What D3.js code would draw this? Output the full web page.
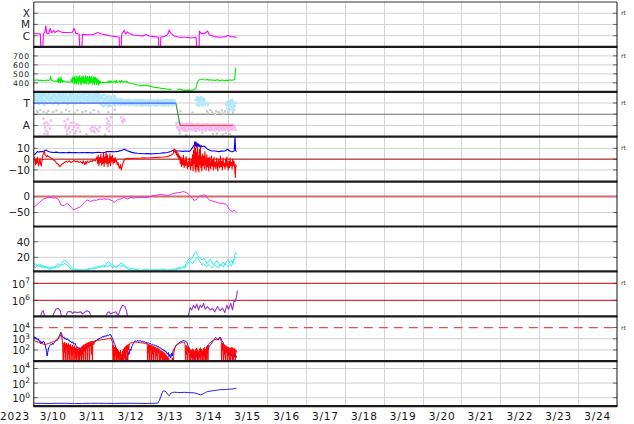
<!DOCTYPE html>
<html><head><meta charset="utf-8">
<script src="https://cdn.jsdelivr.net/npm/d3@7"></script>
<style>html,body{margin:0;padding:0;background:#fff;} svg{display:block;}</style>
</head><body><svg id="c" width="634" height="424"></svg>
<script>
// ---------------- DATA (hours since 2023-03-10 00:00 UTC) ----------------
const dayLabels = ["3/10","3/11","3/12","3/13","3/14","3/15","3/16","3/17","3/18","3/19","3/20","3/21","3/22","3/23","3/24"];
const yearLabel = "2023";

const xrayTickValues = [1e-6,1e-5,1e-4];
const xrayTickLabels = ["C","M","X"];
const xrayFlux = [[0.2,1.6e-6],[2,1.5e-6],[4.0,1.45e-6],[4.6,1e-8],[5.4,1e-8],[5.9,1.6e-6],[6.8,1.9e-6],[7.4,7.4e-6],[8.0,1.7e-6],[9.2,1.6e-6],[10.1,4.6e-6],[10.9,1.8e-6],[12.2,2.8e-6],[13.0,1.9e-6],[13.6,2.2e-6],[15.0,2.8e-6],[16.3,2.3e-6],[17.7,1.9e-6],[20.8,1.9e-6],[23.9,2.0e-6],[24.9,4.6e-6],[25.9,1.6e-6],[28.0,1.4e-6],[28.6,1e-8],[29.4,1e-8],[30.0,1.3e-6],[33.1,1.2e-6],[36.2,1.2e-6],[38.3,1.6e-6],[39.3,1.9e-6],[41.4,1.5e-6],[44.5,1.17e-6],[47.6,9.5e-7],[50.6,8.3e-7],[52.7,7.2e-7],[53.0,1e-8],[53.8,1e-8],[54.2,1.2e-6],[55.8,3.0e-6],[56.8,1.4e-6],[57.8,2.2e-6],[58.9,1.6e-6],[61,1.2e-6],[64,1.05e-6],[67.1,9.5e-7],[69.2,1.3e-6],[71.2,9.5e-7],[74.3,8.3e-7],[77.0,7.2e-7],[77.2,1e-8],[78.0,1e-8],[78.4,7.5e-7],[80.5,8.3e-7],[82.6,1.2e-6],[83.6,3.2e-6],[84.6,1.6e-6],[86.7,9.5e-7],[89.8,7.2e-7],[93.9,7.2e-7],[97,6.3e-7],[100.1,7.2e-7],[101.2,1e-8],[102,1e-8],[102.2,2.6e-6],[103.2,1.6e-6],[105.2,1.5e-6],[107.3,2.6e-6],[108.3,1.2e-6],[111.4,8.3e-7],[115.5,7.2e-7],[118.6,8.3e-7],[119.6,1.1e-6],[121.7,8.3e-7],[125.2,7.2e-7]];

const speedTickValues = [400,500,600,700];
const speedTickLabels = ["400","500","600","700"];
const windSpeed = [[0.2,432],[1,428],[2,434],[3,426],[4,430],[5,422],[6,428],[7,424],[8,432],[9,426],[10,434],[10.4,472],[10.8,428],[11.5,424],[12.5,418],[13.5,420],[14.5,414],
[15,445],[15.3,405],[15.6,460],[15.9,410],[16.2,438],[16.5,402],[16.8,465],[17.1,414],[17.4,432],[17.7,406],[18,424],[19,414],[20,410],[21,412],[22,408],[23,414],
[23.5,444],[23.8,400],[24.1,466],[24.4,420],[24.7,455],[25,390],[25.3,474],[25.6,405],[25.9,440],[26.2,386],[26.5,472],[26.8,412],[27.1,456],[27.4,382],[27.7,468],[28,420],[28.3,478],[28.6,394],[28.9,450],[29.2,380],[29.5,470],[29.8,416],[30.1,462],[30.4,392],[30.7,476],[31,404],[31.3,440],[31.6,384],[31.9,478],[32.2,410],[32.5,456],[32.8,388],[33.1,472],[33.4,426],[33.7,452],[34,382],[34.3,474],[34.6,408],[34.9,460],[35.2,394],[35.5,470],[35.8,418],[36.1,446],[36.4,384],[36.7,466],[37,400],[37.3,459],[37.6,378],[37.9,464],[38.2,412],[38.5,448],[38.8,380],[39.1,444],[39.4,398],[39.7,434],[40,376],[40.3,429],[40.6,394],[41,414],[41.5,399],
[42.5,404],[43.5,402],[44.5,409],[45.5,404],[46,419],[46.4,400],[47,424],[47.5,402],[48,416],[49,404],[50,422],[50.5,400],[51,429],[51.5,404],[52.5,409],[53,424],[53.5,402],[54,426],[55,406],[56,414],[57,408],[57.5,419],[58,400],[59,396],[60,392],[61,389],[62,386],[63,382],[64,376],[65,372],[66,366],[67,369],[68,374],[69,376],[70,374],[71,366],[72,360],[73,357],[74,351],[75,349],[76,347],[77,345],[78,341],[79,338],[80,336],[81,334],[82,332],[83,329],[84,327],[85,329],[86,null],
[88.5,326],[89,328],[90,330],[91,324],[92,321],[93,319],[94,317],[95,319],[96,321],[97,317],[98,319],[99,326],[100,338],[100.5,366],[101,405],[101.5,424],[102,432],[103,436],[104,442],[105,434],[106,432],[107,438],[108,430],[109,434],[110,428],[111,432],[112,426],[113,434],[114,430],[115,424],[116,432],[117,428],[118,422],[119,430],[120,424],[121,434],[122,428],[123,432],[124,436],[124.5,561],[125,563]];

const phiTickValues = [135,225,315];
const phiTickLabels = ["A","","T"];
// rows: [hour, angles observed within that hour]
const phiToward = [[0,385,350,330,372],[1,360,395,340,318],[2,375,330,392,355],[3,345,380,310,365],[4,398,352,336,376],[5,362,388,322,345],[6,340,372,300,390],[7,380,355,332,368],[8,350,398,315,342],[9,372,338,385,356],[10,392,348,325,366],[11,358,380,340,312],[12,345,370,392,330],[13,382,352,318,362],[14,366,395,342,328],[15,350,375,305,388],[16,395,360,338,372],[17,340,384,356,320],[18,376,348,390,334],[19,358,370,325,395],[20,386,342,362,310],[21,350,398,336,370],[22,372,355,318,388],[23,340,380,362,328],[24,390,350,372,345],[25,365,336,394,312],[26,378,352,330,360],[27,345,388,368,322],[28,396,340,358,375],[29,355,380,326,368],[30,372,345,392,336],[31,350,366,315,384],[32,388,338,360,346],[33,362,395,330,372],[34,340,378,355,318],[35,385,350,372,334],[36,356,392,338,365],[37,375,345,320,388],[38,348,382,362,330],[39,392,356,340,370],[40,366,335,385,312],[41,345,372,355,300],[42,360,330,378,290],[43,352,380,316,342],[44,338,365,300,355],[45,372,345,325,290],[46,350,368,310,336],[47,335,358,295,348],[48,362,330,345,305],[49,340,355,318,370],[50,330,350,296,342],[51,348,322,336,310],[52,325,340,305,332],[53,335,318,345,300],[54,322,338,310,328],[55,340,312,330,305],[56,318,335,300,326],[57,332,310,338,315],[58,325,342,306,320],[59,315,330,298,334],[60,338,320,310,326],[61,322,335,302,316],[62,330,312,340,305],[63,318,328,296,335],[64,335,306,322,312],[65,320,338,300,326],[66,312,330,318,296],[67,328,310,336,304],[68,316,332,300,322],[69,334,308,325,298],[70,322,336,310,318],[71,310,326,296,332],[72,330,314,338,305],[73,318,328,300,322],[74,335,310,326,298],[75,322,332,308,318],[76,312,338,295,326],[77,328,306,334,315],[78,316,330,300,322],[79,334,312,325,298],[80,320,338,306,316],[81,312,326,298,332],[82,330,310,340,304],[83,318,332,296,324],[84,336,308,322,312],[85,325,340,302,318],[86,312,328,298,334],
[100,340,305],[101,360,320,345,295],[102,330,355,300,340],[103,348,312,362,325],[104,322,350,296,338],[105,345,305,330],[107,315,300],[119,300,270,320],[120,325,285,250,310],[121,296,330,262,315],[122,310,280,340,255],[123,322,265,300],[124,290,315]];
const phiAway = [[6,190,150],[7,120,95],[8,160,80],[9,140],[10,110,175],[19,170,120],[20,140,95],[21,185,110],[22,130,80],[23,155],[24,100,160],[25,125],[26,90,145],[27,115],[28,135,85],[35,110,90],[36,125],[37,95,118],[39,105],[40,88,120],[45,190,150,110],[46,170,90,130],[47,140,200],[54,200,170],[55,160,185],[56,175],
[88,150,120],[89,130,100,160],[90,110,140,90,125],[91,135,105,150,118],[92,120,95,140,130],[93,145,112,100,128],[94,118,138,92,150],[95,130,108,145,120],[96,112,140,98,132],[97,150,125,105,138],[98,128,96,145,115],[99,140,118,130,102],[100,115,135,92,125],[101,130,108,150,120],[102,122,140,98,135],[103,138,112,128,105],[104,118,145,100,130],[105,132,106,140,122],[106,112,138,95,128],[107,145,120,108,135],[108,125,98,140,115],[109,138,112,130,100],[110,118,142,105,128],[111,130,96,145,120],[112,112,135,100,125],[113,140,118,108,132],[114,122,145,96,130],[115,135,110,128,102],[116,115,140,98,125],[117,130,106,145,118],[118,120,138,100,128],[119,142,112,130,105],[120,118,135,96,125],[121,132,108,140,120],[122,112,138,100,128],[123,140,120,105,130],[124,125,100]];
const phiOther = [[2,250,240],[4,258],[6,245,70],[8,236,62],[9,252],[12,244],[14,255],[17,240],[20,262,68],[22,248],[25,238,72],[27,256],[30,242],[32,250,65],[35,238],[37,258,80],[40,246],[44,60],[46,240],[50,262],[90,70,250],[94,60],[98,240],[104,78],[107,250,232],[109,258],[110,240,66],[112,226,250],[113,70],[114,244,236],[116,255,62],[117,230],[118,248,75],[120,240],[121,68],[123,236,258]];
const phiSampleOffsets = [0, 0.55, 0.2, 0.8];
const sectorTimes = [0.2,87.7,90.3,123.1];
const sectorAngles = [315,315,135,135];

const bTickValues = [-10,0,10];
const bTickLabels = ["\u221210","0","10"];
const bTotal = [[0.2,4],[1,5],[2.3,7.1],[3,6.5],[4.3,7.1],[5,6.8],[6.4,7.5],[7.5,8.6],[8.4,7.5],[9.5,6.8],[10.5,6.5],[12,6.2],[14,6.5],[16,6.0],[18,6.2],[20,6.0],[22,6.3],[24,6.0],[26,6.1],[28,5.9],[30,6.2],[32,6.0],[34,6.1],[36,5.8],[38,6.2],[40,6.4],[42,6.0],[44,6.3],[45.5,7.1],[47.5,7.0],[50,6.8],[52,7.2],[54,8],[55.8,9.2],[57.8,7.7],[60,6.5],[62,5.8],[64,5.5],[66,5.3],[68,5.0],[70,5.2],[72,4.9],[74,5.0],[76,5.3],[78,5.5],[80,5.8],[82.5,6.1],[84.5,7.0],[86.6,8.6],[88,7.8],[90,7.5],[92,7.2],[94,7.6],[96,7.2],[97,8.6],[99,13],[99.5,16.3],[99.8,12],[100.1,15.5],[100.5,11],[100.8,14.8],[101.2,12.5],[101.6,14],[102,11.5],[102.5,13.2],[103,10.5],[103.5,12.5],[104,11.7],[105,12.2],[106,11],[107,9.5],[108,8.6],[109,8.0],[110,7.5],[112,7.6],[114,7.0],[116,7.4],[118,7.6],[119.6,9.2],[120.5,8],[121.6,7.1],[122.5,6.8],[123.7,7.5],[124.2,21],[124.6,8],[125.1,7]];
const bz = [[0.2,2.4],[0.6,-0.6],[1.0,-5.3],[1.4,-1.0],[1.8,-4],[2.2,2.0],[2.6,-3.1],[3,-6.2],[3.4,-2],[3.8,1],[4.2,-4.5],[4.6,-6.5],[5,-2],[5.5,3],[6,5.5],[6.5,7.1],[7,4],[7.5,3],[8,2],[8.5,3.5],[9,2.4],[10,1.8],[11,0.5],[12,-0.6],[13,-1.5],[14,-3.7],[15,-4.5],[16,-6.8],[17,-5.3],[18,-4],[19,-3.1],[20,-2.2],[21,-2.8],[22,-1.6],[23,-3.2],[24,-2.2],[25,-1.3],[26,-2.6],[27,-1.8],[28,-3.0],[29,-2.2],[30,-4.2],[30.5,-1.5],[31,-3.7],[31.5,-5],[32,-2.4],[32.5,-4.4],[33,-1.8],[34,-3.0],[35,-1.6],[36,-2.2],[37,-0.8],[38,-1.5],[39,2],[39.4,-4],[39.8,3.5],[40.2,-6],[40.6,1.5],[41,-3],[41.4,4.5],[41.8,-5.5],[42.2,0.5],[42.6,-4],[43,5.5],[43.4,-6.8],[43.8,2],[44.2,-3],[44.6,7.1],[45,-4.5],[45.4,4],[45.8,-7],[46.2,1],[46.6,-3.5],[47,5],[47.4,-6],[47.8,2.5],[48.2,-2],[48.6,3.5],[49,-4.5],[49.4,0.5],[49.8,-3],[50.2,1.5],[50.6,-2.5],[51,-1],[51.5,-5.3],[52,-3],[52.5,-6.8],[53,-8.4],[53.5,-5],[54,-9.9],[54.5,-7],[55,-4],[55.8,-1],[56.5,0.2],[57.8,0.9],[60,0.5],[62,0.8],[64,0.9],[66,1.0],[68,1.2],[70,1.0],[72,1.3],[74,1.5],[76,1.6],[78,1.8],[80,2.0],[82.5,2.4],[84.5,3.5],[86,5],[86.6,9.6],[87.2,6],[87.6,8.5],[88,4],[88.4,7],[88.8,2],[89.2,5],[89.6,0],[90,3],
[90.4,-4],[90.8,2],[91.2,-7],[91.6,1],[92,-5.3],[92.4,3.5],[92.8,-8],[93.2,-1],[93.6,-6],[94,2.5],[94.4,-4],[94.8,-9],[95.2,-2],[95.6,-7],[96,1],[96.4,-5],[96.8,-10],[97.2,0],[97.6,-6],[98,4],[98.3,-11],[98.6,8],[98.9,-4],[99.2,13],[99.5,-9],[99.8,10],[100.1,-12],[100.4,6],[100.7,-7],[101,12],[101.3,-10],[101.6,3],[101.9,-12],[102.2,9],[102.5,-5],[102.8,11],[103.1,-8],[103.4,2],[103.7,-11],[104,5],[104.4,-6],[104.8,3],[105.2,-9],[105.6,7],[106,-3],[106.4,-10],[106.8,4],[107.2,-7],[107.6,1],[108,-11],[108.4,2],[108.8,-5],[109.2,-9],[109.6,3],[110,-6],[110.4,-1],[110.8,-10],[111.2,2],[111.6,-7],[112,-3],[112.4,-9],[112.8,1],[113.2,-6],[113.6,-11],[114,0],[114.4,-5],[114.8,-8],[115.2,3],[115.6,-7],[116,-2],[116.4,-10],[116.8,1],[117.2,-6],[117.6,-4],[118,-9],[118.4,0],[118.8,-7],[119.2,2],[119.6,-5],[120,-10],[120.4,-2],[120.8,-8],[121.2,1],[121.6,-6],[122,-3],[122.4,-9],[122.8,0],[123.2,-6],[123.6,-2],[124,-8],[124.4,-17],[124.7,-5],[125.1,-7]];

const dstTickValues = [-50,0];
const dstTickLabels = ["\u221250","0"];
const dst = [[0.2,-33],[1.2,-29],[2.3,-23],[3.5,-18],[4.8,-12],[6,-8],[7.5,-5],[8.5,-3],[9.5,-2],[10.5,-2.5],[11.5,-4],[12.6,-5],[13.5,-4],[14.6,-5.5],[15.5,-12],[16.7,-26],[17.8,-28],[18.7,-29],[19.5,-25],[20.8,-21],[21.8,-27],[22.8,-33],[23.8,-38],[24.9,-41.6],[25.8,-39],[27,-36],[28,-34],[29,-31],[30,-26],[31.1,-19],[32,-14],[33.1,-11],[34,-13],[35.2,-15.5],[36,-13],[37.2,-11],[38.5,-12],[39.3,-10],[40.5,-9],[41.4,-8],[42.5,-9],[43.4,-7],[44.5,-8],[45.5,-8],[46.5,-9],[47.5,-11],[48.5,-14],[49.6,-18.6],[50.5,-15],[51.7,-10],[52.5,-8],[53.7,-8],[54.7,-6],[55.8,-2],[56.5,-4],[57.8,-8],[58.8,-5],[59.9,-2],[61,-4],[61.9,-5],[63,-3],[64,-3.5],[66.1,-2],[68,-3],[70.2,-2],[71.5,-1],[72.2,0],[73.2,2.2],[74.5,3],[76.4,5.3],[77.5,6],[78.4,7.4],[79.5,6],[80.5,5.3],[81.5,4],[82.5,3.2],[83.5,4],[84.6,6],[85.6,9],[86.6,10.5],[87.5,11],[88.7,12],[89.7,12.6],[90.8,13],[91.8,15.7],[92.8,15],[93.8,13],[94.9,10.5],[95.8,6],[96.9,0],[98,-6],[99,-12.4],[100,-10],[101,-5.1],[102,0],[103.1,2.2],[104,4],[105.2,5.3],[106.2,3],[107.2,-5],[108.3,-10],[109.3,-12.4],[110.3,-14],[111.3,-15.5],[112.3,-17],[113.4,-19],[114.4,-21],[115.5,-20.7],[116.5,-22],[117.5,-23],[118.6,-24],[119.6,-30],[120.6,-39.5],[121.6,-44],[122.6,-46.8],[123.7,-43],[124.4,-47],[125.1,-49]];

const densTickValues = [20,40];
const densTickLabels = ["20","40"];
const densityA = [[0.2,10],[1,12],[2,9],[3,11],[4,8],[5,10],[6,7],[7,9],[8,6],[9,8],[10,5],[11,7],[12,6],[13,8],[14,9],[15,7],[16,10],[17,12],[18,14],[19,16.5],[20,15],[21,13],[22,10],[23,8],[24,6],[25,5],[26,4],[27,5],[28,3.5],[29,4],[30,3],[31,4],[32,3.5],[33,5],[34,4],[35,6],[36,5],[37,7],[38,6],[39,8],[40,7],[41,9],[42,8],[43,10],[44,9],[45,12],[46,14.4],[47,13],[48,10],[49,9],[50,8],[51,7],[52,9],[53,11],[54,13.1],[55,12],[56,10],[57,8],[58,7],[59,6],[60,5],[61,6],[62,5],[63,4],[64,5],[65,4],[66,3],[67,4],[68,3.5],[69,5],[70,4],[71,3],[72,4],[73,3],[74,4],[75,3.5],[76,4.5],[77,3],[78,4],[79,3.5],[80,5],[81,4],[82,3],[83,4],[84,3],[85,4],[86,5],[87,4],[88,6],[89,5],[90,7],[91,6],[92,8],[93,7],[94,12],[95,16],[96,18.7],[97,17],[98,20],[99,24],[100,27.2],[101,24],[102,20],[103,18],[104,17],[105,19],[106,16],[107,12],[108,15],[109,18],[110,14],[111,10],[112,13],[113,16],[114,12],[115,9],[116,11],[117,14],[118,10],[119,15],[120,17],[121,13],[122,16],[123,12],[124,22],[124.6,25.9],[125.1,24]];
const densityB = [[0.2,8],[1,7],[2,10],[3,8],[4,11],[5,7],[6,9],[7,6],[8,8],[9,5],[10,7],[11,5],[12,8],[13,6],[14,10],[15,12],[16,9],[17,11],[18,10],[19,12],[20,11],[21,9],[22,7],[23,5],[24,4],[25,3],[26,5],[27,3],[28,4],[29,3],[30,4.5],[31,3],[32,5],[33,4],[34,6],[35,5],[36,6.5],[37,5],[38,7],[39,6],[40,8],[41,7],[42,9],[43,8],[44,8],[45,9],[46,8],[47,10],[48,8],[49,7],[50,9],[51,8],[52,10],[53,9],[54,8],[55,10],[56,8],[57,6],[58,5],[59,4],[60,3.5],[61,4],[62,3],[63,5],[64,3],[65,4],[66,2.5],[67,3],[68,4.5],[69,3],[70,5],[71,4],[72,3],[73,4.5],[74,3],[75,5],[76,3],[77,4],[78,3],[79,5],[80,3.5],[81,5],[82,4],[83,3],[84,4.5],[85,3],[86,4],[87,5],[88,4],[89,7],[90,6],[91,5],[92,7],[93,6],[94,9],[95,12],[96,15],[97,14],[98,12],[99,15],[100,18],[101,20],[102,16],[103,13],[104,10],[105,12],[106,9],[107,8],[108,11],[109,9],[110,7],[111,8],[112,10],[113,8],[114,7],[115,11],[116,9],[117,8],[118,12],[119,10],[120,8],[121,11],[122,9],[123,15],[124,18],[125.1,20]];

const elecTickValues = [1e6,1e7];
const elecTickLabels = ["10^6","10^7"];
const electronFlux = [[0.2,1.1e5],[4.0,1.1e5],[5.0,2.0e5],[5.8,2.45e5],[6.4,1.5e5],[7.0,1.1e5],[11.5,1.1e5],[12.1,1.5e5],[13.6,3.0e5],[15.0,3.4e5],[16.3,2.45e5],[17.1,1.1e5],[19.8,1.1e5],[20.8,2.1e5],[22.8,2.2e5],[23.9,1.7e5],[24.9,2.1e5],[27.0,1.9e5],[29.0,2.1e5],[30.0,1.6e5],[31.1,1.9e5],[32.7,2.45e5],[34.2,2.1e5],[35.2,1.3e5],[36.2,1.1e5],[44.5,1.1e5],[45.5,1.9e5],[46.5,2.1e5],[47.5,1.6e5],[49.2,1.9e5],[50.6,2.1e5],[52.1,1.3e5],[53.7,3.4e5],[54.7,5.2e5],[56.2,4.3e5],[57.4,2.1e5],[57.8,1.1e5],[58.5,5e4],[94.5,5e4],[95.3,1.1e5],[96.5,3.8e5],[97.5,2.7e5],[98.6,5.2e5],[99.6,3.4e5],[100.6,6.0e5],[101.7,2.7e5],[102.7,5.2e5],[103.7,3.8e5],[104.8,6.6e5],[105.8,3.0e5],[107.2,4.3e5],[108.9,2.7e5],[110.3,3.4e5],[111.7,2.1e5],[113.4,4.3e5],[115.0,2.45e5],[116.5,3.4e5],[117.9,1.9e5],[119.2,5.2e5],[120.2,3.0e5],[121.6,6.6e5],[122.7,2.7e5],[123.7,1.05e6],[124.3,8.3e5],[125.1,1.6e6],[125.7,3.7e6]];

const protTickValues = [1e2,1e3,1e4];
const protTickLabels = ["10^2","10^3","10^4"];
const protonBlue = [[0.2,1600],[0.7,1100],[1.2,1400],[1.7,900],[2.3,780],[2.8,1000],[3.3,600],[3.8,700],[4.3,370],[4.8,540],[5.3,420],[5.8,600],[6.4,540],[6.9,300],[7.4,150],[7.9,85],[8.2,29],[8.6,60],[9,120],[9.5,200],[10,260],[10.5,316],[11,280],[11.5,400],[12,316],[12.6,450],[13.2,600],[13.8,800],[14.6,780],[15.2,1200],[15.8,1800],[16.3,2600],[16.7,3800],[17.1,2800],[17.6,1800],[18.2,1200],[18.7,1400],[19.3,900],[19.8,1100],[20.3,800],[20.8,1000],[21.4,700],[21.8,780],[22.4,520],[22.8,600],[23.4,420],[23.9,540],[24.5,350],[24.9,316],[25.5,400],[26,260],[26.6,200],[27,178],[27.6,123],[28,160],[28.5,90],[29,123],[29.5,60],[30,42],[30.5,80],[31.1,123],[31.6,90],[32.1,178],[32.6,150],[33.1,200],[33.6,170],[34.2,260],[34.7,220],[35.2,316],[35.8,280],[36.3,420],[36.8,380],[37.2,540],[37.8,500],[38.3,700],[38.8,660],[39.3,900],[39.8,800],[40.3,1100],[40.8,1000],[41.4,1300],[41.9,1200],[42.4,1600],[42.9,1400],[43.4,1800],[44,1500],[44.5,2000],[45,1700],[45.5,2200],[46,1900],[46.5,2300],[47,2100],[47.5,2300],[48,1500],[48.6,1100],[49.1,700],[49.6,400],[50.1,300],[50.6,178],[51.2,123],[51.7,60],[52.2,40],[52.7,23],[53.2,60],[53.7,23],[54.2,40],[54.7,14],[55.2,42],[55.8,20],[56.3,60],[56.8,30],[57.3,9.5],[57.8,25],[58.3,60],[58.8,40],[59.4,123],[59.9,90],[60.4,200],[60.9,260],[61.4,400],[61.9,540],[62.6,660],[63.2,560],[63.8,700],[64.4,620],[65,660],[65.6,600],[66.1,680],[66.7,560],[67.3,600],[68,500],[68.6,540],[69.2,440],[69.8,480],[70.4,400],[71,420],[71.6,350],[72.2,370],[72.8,300],[73.4,330],[74,260],[74.6,280],[75.2,220],[75.8,240],[76.4,178],[77,200],[77.6,150],[78.2,160],[78.8,120],[79.4,123],[80,90],[80.5,100],[81,70],[81.5,80],[82,50],[82.5,42],[83,60],[83.5,25],[84,40],[84.6,20],[85,50],[85.5,30],[86,85],[86.6,123],[87.2,178],[87.8,260],[88.4,300],[89,370],[89.6,420],[90.2,500],[90.8,540],[91.4,600],[92,640],[92.6,700],[93.2,620],[93.8,600],[94.4,480],[94.9,316],[95.5,200],[96,123],[96.5,60],[97,29],[97.5,60],[98,20],[98.5,42],[99,14],[99.5,35],[100,60],[100.5,25],[101,50],[101.5,20],[102,42],[102.5,90],[103.1,40],[103.6,60],[104.1,25],[104.6,60],[105.2,29],[105.7,42],[106.2,14],[106.8,42],[107.2,85],[107.8,123],[108.3,200],[108.9,260],[109.3,316],[109.9,400],[110.3,540],[110.8,660],[111.3,800],[111.8,1100],[112.3,1300],[112.8,1100],[113.4,900],[114,780],[114.6,1200],[115.0,1400],[115.5,1100],[116,700],[116.5,600],[117,400],[117.5,260],[118,200],[118.6,150],[119.2,123],[119.6,60],[120.1,85],[120.6,40],[121.1,60],[121.6,30],[122.1,42],[122.6,20],[123.1,35],[123.7,25],[124.2,42],[124.7,20],[125.1,30]];
const protonRed = [[0.2,780],[1,600],[2,540],[3,480],[4,420],[5,370],[6,330],[7,300],[8,340],[9,370],[10,420],[11,480],[12,540],[13,600],[14,700],[15,900],[16,1500],[16.8,2400],[17.4,1200],[17.8,300],
[18.2,3],[18.5,400],[18.8,60],[19.1,500],[19.4,3],[19.7,350],[20,120],[20.3,420],[20.6,3],[20.9,300],[21.2,40],[21.5,380],[21.8,3],[22.1,260],[22.4,90],[22.7,320],[23,3],[23.3,200],[23.6,30],[23.9,280],[24.2,3],[24.5,180],[24.8,60],[25.1,240],[25.4,3],[25.7,150],[26,20],[26.3,200],[26.6,3],[26.9,120],[27.2,40],[27.5,160],[27.8,3],[28.1,100],[28.4,3],[28.7,140],[29,30],[29.3,180],[29.6,3],[29.9,220],[30.2,50],[30.5,260],[30.8,3],[31.1,300],[31.4,80],[31.7,340],[32,3],[32.3,380],[32.6,120],[32.9,420],[33.2,3],[33.5,460],[33.8,200],[34.1,500],[34.4,3],[34.7,540],[35,260],[35.3,580],[35.6,40],[35.9,600],[36.2,3],[36.5,640],[37,300],[37.5,660],
[38.2,700],[39,720],[40,760],[41,780],[42,820],[43,850],[44,900],[45,960],[46,1050],[47,1100],[47.6,1200],[48.2,700],[48.6,400],
[49,3],[49.3,260],[49.6,3],[49.9,180],[50.2,30],[50.5,200],[50.8,3],[51.1,140],[51.4,3],[51.7,120],[52,20],[52.3,90],[52.6,3],[52.9,60],[53.2,3],[53.5,100],[53.8,3],[54.1,40],[54.4,3],[54.7,80],[55,3],[55.3,120],[55.6,3],[55.9,160],[56.2,30],[56.5,200],[56.8,3],[57.1,240],[57.4,60],[57.7,280],[58,3],[58.3,320],[58.6,100],[59,360],[59.5,400],
[60,430],[61,460],[62,480],[63,500],[64,480],[65,460],[66,440],[67,420],[68,400],[69,380],[70,360],
[70.4,3],[70.7,320],[71,60],[71.3,300],[71.6,3],[71.9,280],[72.2,90],[72.5,260],[72.8,3],[73.1,240],[73.4,40],[73.7,220],[74,3],[74.3,200],[74.6,70],[74.9,180],[75.2,3],[75.5,160],[75.8,30],[76.1,150],[76.4,3],[76.7,140],[77,50],[77.3,120],[77.6,3],[77.9,100],[78.2,3],[78.5,90],[78.8,20],[79.1,80],[79.4,3],[79.7,70],[80,3],[80.3,60],[80.6,3],[80.9,50],[81.2,3],[81.5,40],[81.8,3],[82.1,30],[82.4,3],[82.7,25],[83,3],[83.3,20],[83.6,3],[84,3],[84.5,3],[85,3],[85.5,20],[86,3],
[86.5,60],[87,140],[87.6,220],[88.2,280],[88.8,330],[89.4,360],[90,400],[90.6,420],[91.2,450],[91.8,470],[92.4,490],[93,480],[93.4,300],
[93.7,3],[94,260],[94.3,40],[94.6,220],[94.9,3],[95.2,180],[95.5,60],[95.8,150],[96.1,3],[96.4,120],[96.7,3],[97,90],[97.3,20],[97.6,110],[97.9,3],[98.2,130],[98.5,30],[98.8,100],[99.1,3],[99.4,80],[99.7,3],[100,120],[100.3,40],[100.6,150],[100.9,3],[101.2,100],[101.5,3],[101.8,70],[102.1,20],[102.4,130],[102.7,3],[103,160],[103.3,50],[103.6,120],[103.9,3],[104.2,90],[104.5,3],[104.8,140],[105.1,30],[105.4,170],[105.7,3],[106,120],[106.3,3],[106.6,200],[106.9,60],[107.2,260],[107.5,3],[107.8,300],
[108.2,380],[108.8,450],[109.4,520],[110,600],[110.6,680],[111.2,760],[111.8,820],[112.4,860],[113,800],[113.6,900],[114.2,1000],[114.8,1200],[115.3,1000],[115.7,600],
[116,3],[116.3,400],[116.6,80],[116.9,350],[117.2,3],[117.5,300],[117.8,40],[118.1,260],[118.4,3],[118.7,220],[119,60],[119.3,200],[119.6,3],[119.9,180],[120.2,30],[120.5,160],[120.8,3],[121.1,140],[121.4,3],[121.7,160],[122,50],[122.3,180],[122.6,3],[122.9,150],[123.2,3],[123.5,120],[123.8,40],[124.1,140],[124.4,3],[124.7,100],[125.1,60]];

const hfTickValues = [1e0,1e2,1e4];
const hfTickLabels = ["10^0","10^2","10^4"];
const hfFlux = [[0.2,0.17],[5,0.165],[10,0.16],[15,0.17],[20,0.17],[25,0.16],[30,0.16],[35,0.17],[40,0.17],[45,0.165],[50,0.16],[55,0.17],[60,0.17],[65,0.165],[70,0.16],[75,0.17],[76.4,0.17],[77.5,0.4],[78.4,1.4],[79.3,5],[79.9,8.7],[80.8,7.5],[81.5,7],[82.5,3],[83.6,1.9],[84.6,4.1],[85.5,5],[86.6,5.7],[88.7,5.2],[90.8,5],[92.8,5.5],[94.9,5],[97,4.8],[99,4.6],[101,3.5],[103,2.4],[104,2.8],[105.2,4.1],[106.2,5.5],[107.2,7],[109.3,8],[111.3,9.6],[113.4,11],[115.5,12.6],[117.5,13],[119.6,14],[121.6,15],[123.7,17],[125.1,20]];

// ---------------- CHART ----------------
const svg = d3.select('#c');
const FONT = "DejaVu Sans, sans-serif";
const t0 = Date.UTC(2023,2,10);
const toDate = h => new Date(t0 + h*3600000);
const X0 = 33.8, X1 = 617;
const x = d3.scaleUtc().domain([new Date(Date.UTC(2023,2,10)), new Date(Date.UTC(2023,2,25))]).range([X0, X1]);
const TOP = 2, PH = 44.9;
const pTop = i => TOP + i*PH, pBot = i => TOP + (i+1)*PH;

const panels = [
  {y:d3.scaleLog().domain([1e-7,1e-3]), tv:xrayTickValues, tl:xrayTickLabels, rt:true, fs:10.5},
  {y:d3.scaleLinear().domain([300,800]), tv:speedTickValues, tl:speedTickLabels, rt:true, fs:7.7, ls:0.8},
  {y:d3.scaleLinear().domain([45,405]), tv:phiTickValues, tl:phiTickLabels, rt:true, dark:[225], fs:10.5},
  {y:d3.scaleLinear().domain([-20.8,20.8]), tv:bTickValues, tl:bTickLabels, rt:true, fs:10.2, special:[{v:0,c:'#990000',w:1}]},
  {y:d3.scaleLinear().domain([-94,47]), tv:dstTickValues, tl:dstTickLabels, fs:10.2, special:[{v:0,c:'#d46a6a',w:2}]},
  {y:d3.scaleLinear().domain([2,59.5]), tv:densTickValues, tl:densTickLabels, fs:10.5},
  {y:d3.scaleLog().domain([Math.pow(10,5.06),Math.pow(10,7.7)]), tv:elecTickValues, tl:elecTickLabels, rt:true, fs:10.5, special:[{v:1e6,c:'#cc0000',w:1},{v:1e7,c:'#cc0000',w:1}]},
  {y:d3.scaleLog().domain([10,1e5]), tv:protTickValues, tl:protTickLabels, rt:true, fs:10.2, special:[{v:1e4,c:'#e05050',w:1.3,dash:'9,6'}]},
  {y:d3.scaleLog().domain([0.07,1e5]), tv:hfTickValues, tl:hfTickLabels, fs:10.2}
];
panels.forEach((p,i)=>p.y.range([pBot(i), pTop(i)]));

const defs = svg.append('defs');
panels.forEach((p,i)=>{
  defs.append('clipPath').attr('id','clip'+i).append('rect')
    .attr('x',X0).attr('y',pTop(i)).attr('width',X1-X0).attr('height',PH);
});

const days = x.ticks(d3.utcDay.every(1));
svg.append('g').selectAll('line').data(days.slice(1,-1)).join('line')
  .attr('x1',d=>Math.round(x(d))+0.5).attr('x2',d=>Math.round(x(d))+0.5)
  .attr('y1',TOP).attr('y2',pBot(8)).attr('stroke','#d4d4d4').attr('stroke-width',1);

panels.forEach((p,i)=>{
  const g = svg.append('g');
  const specialVals = (p.special||[]).map(s=>s.v);
  p.tv.forEach((v,k)=>{
    const yy = p.y(v);
    if(!specialVals.includes(v)){
      const dark = (p.dark||[]).includes(v);
      g.append('line').attr('x1',X0).attr('x2',X1).attr('y1',yy).attr('y2',yy)
        .attr('stroke',dark?'#6e6e6e':'#d0d0d0').attr('stroke-width',1);
    }
    g.append('line').attr('x1',X1-4).attr('x2',X1).attr('y1',yy).attr('y2',yy).attr('stroke','#666');
    g.append('line').attr('x1',X0).attr('x2',X0+4).attr('y1',yy).attr('y2',yy).attr('stroke','#666');
    const lab = p.tl[k];
    if(lab){
      const t = g.append('text').attr('x',30).attr('y',yy+p.fs*0.37).attr('text-anchor','end')
        .attr('font-family',FONT).attr('font-size',p.fs).attr('fill','#222')
        .attr('letter-spacing',p.ls||null);
      if(lab.includes('^')){
        const [b,e] = lab.split('^');
        t.attr('y',yy+4.5);
        t.append('tspan').text(b);
        t.append('tspan').attr('dy',-4.5).attr('font-size',7.5).text(e);
      } else t.text(lab);
    }
  });
  (p.special||[]).forEach(s=>{
    g.append('line').attr('x1',X0).attr('x2',X1).attr('y1',p.y(s.v)).attr('y2',p.y(s.v))
      .attr('stroke',s.c).attr('stroke-width',s.w).attr('stroke-dasharray',s.dash||null);
  });
  if(p.rt){
    const topV = d3.max(p.tv);
    g.append('text').attr('x',621).attr('y',p.y(topV)+2).attr('font-family',FONT)
      .attr('font-size',6).attr('fill','#333').text('rt');
  }
});

function drawLine(i, data, color, width){
  const p = panels[i];
  const line = d3.line()
    .defined(d=>d[1]!==null && d[1]>(p.y.base?0:-Infinity))
    .x(d=>x(toDate(d[0]))).y(d=>p.y(d[1]));
  svg.append('path').datum(data).attr('clip-path','url(#clip'+i+')')
    .attr('d',line).attr('fill','none').attr('stroke',color).attr('stroke-width',width)
    .attr('stroke-linejoin','round');
}
function drawDots(i, rows, color, size){
  const p = panels[i];
  const pts = [];
  rows.forEach(r=>{ r.slice(1).forEach((v,k)=>pts.push([r[0]+phiSampleOffsets[k], v])); });
  svg.append('g').attr('clip-path','url(#clip'+i+')').selectAll('rect').data(pts).join('rect')
    .attr('x',d=>x(toDate(d[0]))-size/2).attr('y',d=>p.y(d[1])-size/2).attr('width',size).attr('height',size)
    .attr('fill',color);
}

drawLine(0, xrayFlux, '#ff00ff', 1.1);
drawLine(1, windSpeed, '#00ee00', 1.1);
drawDots(2, phiOther, '#c8c8c8', 2.2);
drawDots(2, phiToward, '#b2e6fa', 2.6);
drawDots(2, phiAway, '#f6b8ef', 2.4);
{
  const p = panels[2];
  const segColors = ['#4a5cff','#3f9a3f','#ee4b4b'];
  for(let k=0;k<sectorTimes.length-1;k++){
    svg.append('line').attr('x1',x(toDate(sectorTimes[k]))).attr('x2',x(toDate(sectorTimes[k+1])))
      .attr('y1',p.y(sectorAngles[k])).attr('y2',p.y(sectorAngles[k+1]))
      .attr('stroke',segColors[k]).attr('stroke-width',1.2);
  }
}
drawLine(3, bTotal, '#0000ff', 1.1);
drawLine(3, bz, '#ff0000', 1.1);
drawLine(4, dst, '#ee22ee', 1);
drawLine(5, densityB, '#22eeee', 1);
drawLine(5, densityA, '#22eeee', 1);
drawLine(6, electronFlux, '#9933cc', 1.1);
drawLine(7, protonBlue, '#0000ff', 1);
drawLine(7, protonRed, '#ff0000', 1);
drawLine(8, hfFlux, '#2222ee', 1);

svg.append('line').attr('x1',X0).attr('x2',X1).attr('y1',TOP).attr('y2',TOP).attr('stroke','#333').attr('stroke-width',1);
for(let i=1;i<=9;i++){
  svg.append('line').attr('x1',X0-0.5).attr('x2',X1+0.5).attr('y1',pTop(i)).attr('y2',pTop(i))
    .attr('stroke','#1a1a1a').attr('stroke-width',2.2);
}
svg.append('line').attr('x1',X0).attr('x2',X0).attr('y1',TOP).attr('y2',pBot(8)).attr('stroke','#111').attr('stroke-width',1);
svg.append('line').attr('x1',X1).attr('x2',X1).attr('y1',TOP).attr('y2',pBot(8)).attr('stroke','#111').attr('stroke-width',1);

const xl = svg.append('g').attr('font-family',FONT).attr('font-size',10.5).attr('fill','#111');
xl.append('text').attr('x',30).attr('y',420).attr('text-anchor','end').attr('letter-spacing',0.8).text(yearLabel);
xl.selectAll('text.d').data(dayLabels).join('text').attr('class','d')
  .attr('x',(d,k)=>x(toDate(k*24+12))).attr('y',420).attr('text-anchor','middle').attr('letter-spacing',0.8)
  .text(d=>d);
</script></body></html>
